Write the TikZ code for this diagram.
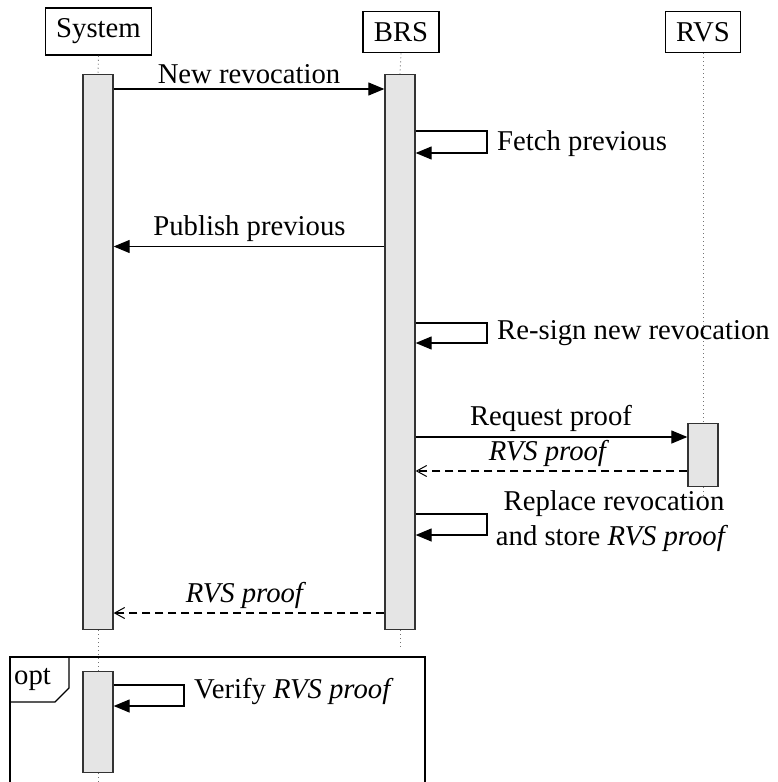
\documentclass[tikz,border=0pt]{standalone}
\usepackage{fontspec}
\setmainfont{Liberation Serif}
\usetikzlibrary{arrows.meta}

\definecolor{barfill}{gray}{0.9}
\definecolor{barline}{gray}{0.2}
\definecolor{lifeline}{gray}{0.45}

\tikzset{
  every node/.style={font=\fontsize{28.7}{34}\selectfont},
  head/.style={draw=black, line width=1.3pt, fill=white, inner xsep=11pt, inner ysep=11pt},
  bar/.style={draw=barline, line width=1.3pt, fill=barfill, minimum width=30pt, inner sep=0pt, anchor=north},
  life/.style={draw=lifeline, line width=0.9pt, dash pattern=on 1pt off 3pt},
  msg/.style={draw=black, line width=1.2pt, -{Triangle[length=16pt,width=13pt]}},
  reply/.style={draw=black, line width=1.2pt, dash pattern=on 8pt off 5pt,
                -{Straight Barb[length=10pt,width=11pt,line width=1pt]}},
  lbl/.style={inner sep=0pt, anchor=base},
  lblw/.style={inner sep=0pt, anchor=base west},
  frm/.style={draw=black, line width=1.8pt}
}

\begin{document}
\begin{tikzpicture}[x=1pt, y=-1pt]
\useasboundingbox (0,0) rectangle (777,782);

% participants
\node[head] (sys) at (98.5,31.5) {System};
\node[head] (brs) at (401,32) {BRS};
\node[head] (rvs) at (703,32) {RVS};

% activation bars
\node[bar, minimum height=555pt] (sysbar) at (98,74) {};
\node[bar, minimum height=555pt] (brsbar) at (400,74) {};
\node[bar, minimum height=63pt]  (rvsbar) at (703,423) {};
\node[bar, minimum height=101pt] (optbar) at (98,671) {};

% lifelines
\coordinate (sysend) at (98,790);
\coordinate (brsend) at (400,650);
\coordinate (rvsend) at (703,497);
\draw[life] (sys.south) -- (sysbar.north);
\draw[life] (sysbar.south) -- (optbar.north);
\draw[life] (optbar.south) -- (sysend);
\draw[life] (brs.south) -- (brsbar.north);
\draw[life] (brsbar.south) -- (brsend);
\draw[life] (rvs.south) -- (rvsbar.north);
\draw[life] (rvsbar.south) -- (rvsend);

% opt fragment
\coordinate (fa) at (10,657);
\coordinate (fb) at (425,800);
\draw[frm] (fa) rectangle (fb);
\coordinate (t1) at (69,657);
\coordinate (t2) at (69,688);
\coordinate (t3) at (55,702);
\coordinate (t4) at (10,702);
\draw[frm, line width=1.2pt] (t1) -- (t2) -- (t3) -- (t4);
\node[lblw] (optlbl) at (14,684) {opt};

% message rows
\coordinate (r1) at (0,89);
\coordinate (r2a) at (0,131);  \coordinate (r2b) at (0,153);
\coordinate (r3) at (0,246.5);
\coordinate (r4a) at (0,323);  \coordinate (r4b) at (0,343);
\coordinate (r5) at (0,437);
\coordinate (r6) at (0,471);
\coordinate (r7a) at (0,514);  \coordinate (r7b) at (0,535);
\coordinate (r8) at (0,613);
\coordinate (r9a) at (0,685);  \coordinate (r9b) at (0,706);
\coordinate (brsloop) at (487,0);
\coordinate (sysloop) at (184,0);

% New revocation
\draw[msg] (sysbar.east |- r1) -- (brsbar.west |- r1);
\node[lbl] (l1) at (249,83) {New revocation};

% Fetch previous
\draw[msg] (brsbar.east |- r2a) -- (brsloop |- r2a) -- (brsloop |- r2b) -- (brsbar.east |- r2b);
\node[lblw] (l2) at (497,150) {Fetch previous};

% Publish previous
\draw[msg] (brsbar.west |- r3) -- (sysbar.east |- r3);
\node[lbl] (l3) at (249.5,235) {Publish previous};

% Re-sign new revocation
\draw[msg] (brsbar.east |- r4a) -- (brsloop |- r4a) -- (brsloop |- r4b) -- (brsbar.east |- r4b);
\node[lblw] (l4) at (497,339) {Re-sign new revocation};

% Request proof
\draw[msg] (brsbar.east |- r5) -- (rvsbar.west |- r5);
\node[lbl] (l5) at (551,425) {Request proof};

% RVS proof reply
\draw[reply] (rvsbar.west |- r6) -- (brsbar.east |- r6);
\node[lbl] (l6) at (549,460) {\textit{RVS proof}};

% Replace revocation
\draw[msg] (brsbar.east |- r7a) -- (brsloop |- r7a) -- (brsloop |- r7b) -- (brsbar.east |- r7b);
\node[lbl] (l7a) at (614,510) {Replace revocation};
\node[lbl] (l7b) at (612,545) {and store \textit{RVS proof}};

% RVS proof back to System
\draw[reply] (brsbar.west |- r8) -- (sysbar.east |- r8);
\node[lbl] (l8) at (246,602) {\textit{RVS proof}};

% Verify RVS proof
\draw[msg] (optbar.east |- r9a) -- (sysloop |- r9a) -- (sysloop |- r9b) -- (optbar.east |- r9b);
\node[lblw] (l9) at (194,698) {Verify \textit{RVS proof}};
\end{tikzpicture}
\end{document}
